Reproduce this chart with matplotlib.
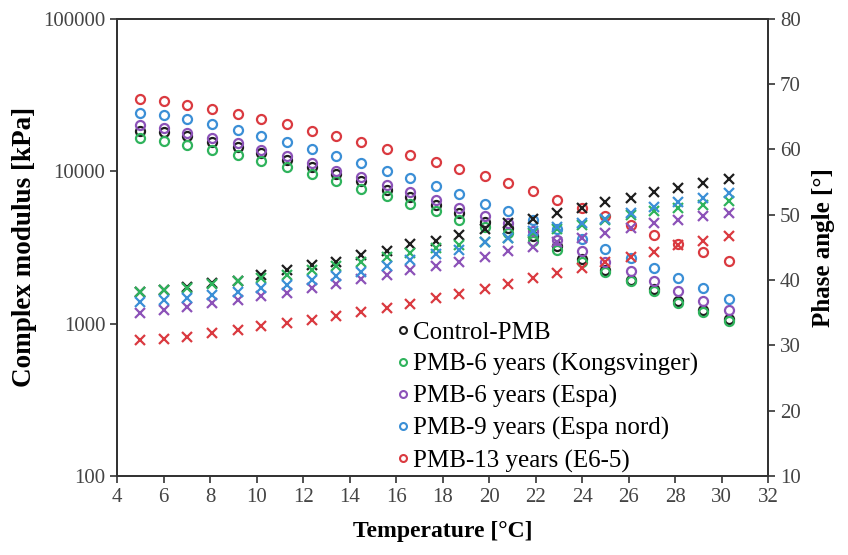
import matplotlib
matplotlib.use('Agg')
import matplotlib.pyplot as plt
from matplotlib.ticker import FixedLocator, NullLocator, FuncFormatter
from matplotlib.lines import Line2D

# temperatures (°C)
temps = [5.0, 6.0, 7.0, 8.1, 9.2, 10.2, 11.3, 12.4, 13.4, 14.5, 15.6, 16.6, 17.7,
         18.7, 19.8, 20.8, 21.9, 22.9, 24.0, 25.0, 26.1, 27.1, 28.1, 29.2, 30.3]

# complex modulus [kPa]
g_control = [18500, 18000, 16900, 15500, 14400, 13200, 11900, 10700, 9630, 8580, 7560, 6770, 6030,
             5320, 4670, 4260, 3780, 3250, 2670, 2260, 1940, 1690, 1400, 1220, 1070]
g_kongs = [16500, 15900, 14900, 13700, 12700, 11600, 10700, 9630, 8580, 7640, 6840, 6120, 5450,
           4810, 4330, 3950, 3500, 3060, 2550, 2190, 1890, 1630, 1370, 1200, 1040]
g_espa = [20000, 19200, 17800, 16500, 15300, 13800, 12500, 11300, 10100, 9160, 8150, 7300, 6440,
          5740, 5050, 4600, 4070, 3560, 2980, 2550, 2200, 1890, 1630, 1400, 1220]
g_nord = [24000, 23500, 21900, 20300, 18700, 16900, 15500, 13900, 12500, 11300, 10100, 9020, 7950,
          7050, 6120, 5450, 4760, 4170, 3610, 3080, 2690, 2300, 1990, 1700, 1460]
g_e65 = [29700, 29000, 27300, 25600, 23800, 22000, 20500, 18500, 16900, 15500, 14000, 12800, 11500,
         10300, 9350, 8370, 7370, 6500, 5740, 5110, 4460, 3830, 3350, 2930, 2560]

# phase angle [°]
p_control = [38.2, 38.5, 39.0, 39.5, 39.9, 40.8, 41.5, 42.3, 42.8, 43.8, 44.5, 45.5, 46.0,
             46.9, 47.8, 48.7, 49.4, 50.2, 51.0, 51.9, 52.6, 53.5, 54.1, 54.9, 55.5]
p_kongs = [38.1, 38.4, 38.8, 39.4, 39.8, 40.3, 40.8, 41.6, 42.2, 42.8, 43.6, 44.2, 44.9,
           45.4, 45.8, 46.4, 47.2, 47.8, 48.5, 49.2, 50.0, 50.5, 51.0, 51.5, 52.1]
p_espa = [35.0, 35.4, 35.8, 36.5, 37.0, 37.6, 38.0, 38.8, 39.4, 40.1, 40.8, 41.6, 42.2,
          42.8, 43.6, 44.4, 45.1, 45.8, 46.4, 47.2, 47.9, 48.7, 49.2, 49.8, 50.3]
p_nord = [36.6, 37.0, 37.2, 37.7, 38.1, 38.8, 39.3, 40.0, 40.6, 41.3, 42.1, 43.1, 44.0,
          44.6, 45.8, 46.5, 47.5, 48.1, 48.8, 49.4, 50.3, 51.2, 52.0, 52.6, 53.4]
p_e65 = [30.8, 31.0, 31.3, 31.9, 32.4, 32.9, 33.4, 33.9, 34.5, 35.1, 35.7, 36.4, 37.2,
         37.9, 38.7, 39.4, 40.3, 41.1, 41.8, 42.8, 43.5, 44.3, 45.4, 46.0, 46.8]

labels = ['Control-PMB', 'PMB-6 years (Kongsvinger)', 'PMB-6 years (Espa)',
          'PMB-9 years (Espa nord)', 'PMB-13 years (E6-5)']
colors = ['#1e1e1e', '#2fb35c', '#8c52b8', '#3b8fd6', '#da3a40']

plt.rcParams['font.family'] = ['Liberation Serif', 'DejaVu Serif']

fig = plt.figure(figsize=(8.48, 5.55), dpi=100)
ax = fig.add_axes([0.138, 0.1425, 0.768, 0.8235])
ax2 = ax.twinx()

moduli = [g_control, g_kongs, g_espa, g_nord, g_e65]
phases = [p_control, p_kongs, p_espa, p_nord, p_e65]

for g, c in zip(moduli, colors):
    ax.plot(temps, g, linestyle='none', marker='o', markersize=6.5,
            markerfacecolor='none', markeredgecolor=c, markeredgewidth=1.6)
for p, c in zip(phases, colors):
    ax2.plot(temps, p, linestyle='none', marker='x', markersize=6.5,
             color=c, markeredgewidth=1.6)

ax.set_yscale('log')
ax.set_ylim(100, 100000)
ax.set_xlim(4, 32)
ax.yaxis.set_major_locator(FixedLocator([100, 1000, 10000, 100000]))
ax.yaxis.set_minor_locator(NullLocator())
ax.yaxis.set_major_formatter(FuncFormatter(lambda v, pos: f'{int(round(v))}'))
ax.set_xticks(range(4, 33, 2))

ax2.set_ylim(10, 80)
ax2.set_yticks(range(10, 81, 10))

for a in (ax, ax2):
    a.tick_params(direction='out', length=5, width=1.2, labelsize=15, colors='#333333',
                  labelcolor='#444444')
    for s in a.spines.values():
        s.set_linewidth(1.3)
        s.set_color('#333333')

ax.set_xlabel('Temperature [°C]', fontsize=17, fontweight='bold', labelpad=10)
ax.set_ylabel('Complex modulus [kPa]', fontsize=19.5, fontweight='bold', labelpad=4)
ax2.set_ylabel('Phase angle [°]', fontsize=18, fontweight='bold', labelpad=8)

handles = [Line2D([], [], linestyle='none', marker='o', markersize=5,
                  markerfacecolor='none', markeredgecolor=c, markeredgewidth=1.5)
           for c in colors]
ax2.legend(handles, labels, loc='upper left', bbox_to_anchor=(0.455, 0.443),
           bbox_transform=fig.transFigure, frameon=False, fontsize=18,
           handlelength=0.4, handletextpad=0.2, labelspacing=0.36, borderpad=0)

fig.savefig('out.png', dpi=100)
